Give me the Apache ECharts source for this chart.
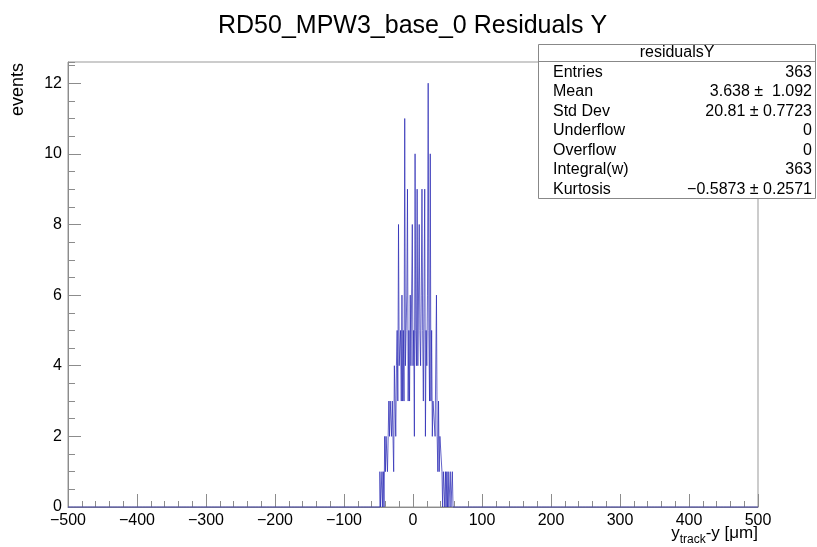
<!DOCTYPE html>
<html>
<head>
<meta charset="utf-8">
<script src="https://cdn.jsdelivr.net/npm/echarts@6/dist/echarts.min.js"></script>
<style>
html,body{margin:0;padding:0;background:#fff;}
#chart{width:817px;height:547px;}
</style>
</head>
<body>
<div id="chart"></div>
<script>
// ---- data ----
const titleText = 'RD50_MPW3_base_0 Residuals Y';
const histLow = -500;           // lower edge of the histogram
const histHigh = 500;           // upper edge
const binWidth = 1;             // µm per bin (1000 bins)
const firstFilledBin = -48;     // lower edge of the first non-empty region
// counts for bins starting at -48, -47, ... 57 (all other bins are empty)
const filledCounts = [
  1,0,0,1,0,1,0,2,1,
  2,2,1,2,3,2,3,3,2,3,
  3,1,4,4,2,4,5,3,8,4,
  4,5,3,6,3,5,3,11,4,5,
  6,9,3,5,3,6,4,4,8,4,
  5,2,10,5,4,9,4,4,8,5,
  4,6,9,5,3,6,9,2,5,4,
  6,12,5,3,10,3,5,2,3,3,
  3,2,2,6,2,1,3,1,2,2,
  2,1,0,1,1,0,1,0,1,0,1,0,0,1,0,0,1
];
const xTicks = [-500,-400,-300,-200,-100,0,100,200,300,400,500];
const yTicks = [0,2,4,6,8,10,12];
const yMax = 12.6;
const statName = 'residualsY';
const statLabels = ['Entries','Mean','Std Dev','Underflow','Overflow','Integral(w)','Kurtosis'];
const statValues = ['363','3.638 \u00B1  1.092','20.81 \u00B1 0.7723','0','0','363','\u22120.5873 \u00B1 0.2571'];

// ---- build step data ----
const nBins = Math.round((histHigh - histLow) / binWidth);
const counts = new Array(nBins).fill(0);
const offset = Math.round((firstFilledBin - histLow) / binWidth);
filledCounts.forEach((c, i) => { counts[offset + i] = c; });
const stepData = counts.map((c, i) => [histLow + i * binWidth, c]);
stepData.push([histHigh, counts[nBins - 1]]);

const FONT = '"Liberation Sans", Arial, Helvetica, sans-serif';
const axisGray = '#8c8c8c';
const minus = s => String(s).replace('-', '\u2212');

const chart = echarts.init(document.getElementById('chart'), null, {renderer: 'canvas'});

const statGraphics = [];
statGraphics.push({type:'rect', shape:{x:538.5, y:44.5, width:277, height:154}, style:{fill:'#fff', stroke:'#888', lineWidth:1}, z:100});
statGraphics.push({type:'line', shape:{x1:538.5, y1:61.5, x2:815.5, y2:61.5}, style:{stroke:'#888', lineWidth:1}, z:101});
statGraphics.push({type:'text', x:677, y:53, style:{text:statName, textAlign:'center', textVerticalAlign:'middle', fontSize:16, fontFamily:FONT, fill:'#000'}, z:101});
statLabels.forEach((l, i) => {
  const y = 72.5 + 19.45 * i;
  statGraphics.push({type:'text', x:553, y:y, style:{text:l, textAlign:'left', textVerticalAlign:'middle', fontSize:16, fontFamily:FONT, fill:'#000'}, z:101});
  statGraphics.push({type:'text', x:812, y:y, style:{text:statValues[i], textAlign:'right', textVerticalAlign:'middle', fontSize:16, fontFamily:FONT, fill:'#000'}, z:101});
});

const option = {
  animation: false,
  backgroundColor: '#fff',
  title: {
    text: titleText,
    left: 213, top: 9,
    textStyle: {fontSize: 25, fontWeight: 'normal', color: '#000', fontFamily: FONT}
  },
  grid: {left: 68, right: 59, top: 62, bottom: 40, show: true, borderColor: '#999', borderWidth: 1, containLabel: false},
  xAxis: {
    type: 'value', min: xTicks[0], max: xTicks[xTicks.length - 1], interval: xTicks[1] - xTicks[0],
    axisLine: {show: true, onZero: false, lineStyle: {color: axisGray}},
    axisTick: {show: true, inside: true, length: 13, lineStyle: {color: axisGray}},
    minorTick: {show: true, splitNumber: 5, length: 6, lineStyle: {color: axisGray}},
    axisLabel: {fontSize: 16, color: '#000', fontFamily: FONT, margin: 6, formatter: v => minus(v)},
    splitLine: {show: false}
  },
  yAxis: [
    {
      type: 'value', min: 0, max: yMax, interval: yTicks[1] - yTicks[0], position: 'left',
      axisLine: {show: true, onZero: false, lineStyle: {color: axisGray}},
      axisTick: {show: true, inside: true, length: 13, lineStyle: {color: axisGray}},
      axisLabel: {fontSize: 16, color: '#000', fontFamily: FONT, margin: 6, showMaxLabel: false,
        formatter: v => (yTicks.indexOf(v) >= 0 ? String(v) : '')},
      splitLine: {show: false}
    },
    {
      type: 'value', min: 0, max: yMax, interval: (yTicks[1] - yTicks[0]) / 4, position: 'left', offset: 0,
      axisLine: {show: false, onZero: false},
      axisTick: {show: true, inside: true, length: 7, lineStyle: {color: axisGray}},
      axisLabel: {show: false},
      splitLine: {show: false}
    }
  ],
  series: [{
    type: 'line', step: 'end', data: stepData, yAxisIndex: 0,
    symbol: 'none', clip: false,
    lineStyle: {width: 1, color: 'rgba(40,40,180,0.72)'},
    z: 5
  }],
  graphic: [
    {type: 'text', x: 18, y: 63, rotation: Math.PI / 2,
     style: {text: 'events', textAlign: 'right', textVerticalAlign: 'middle', fontSize: 18, fontFamily: FONT, fill: '#000'}},
    {type: 'text', x: 758, y: 525,
     style: {text: '{a|y}{s|track}{a|-y [\u03BCm]}', textAlign: 'right', textVerticalAlign: 'top',
       rich: {
         a: {fontSize: 17, fontFamily: FONT, fill: '#000', verticalAlign: 'top', lineHeight: 18},
         s: {fontSize: 12, fontFamily: FONT, fill: '#000', verticalAlign: 'top', lineHeight: 14, padding: [9, 0, 0, 0]}
       }}},
    ...statGraphics
  ]
};
chart.setOption(option);
</script>
</body>
</html>
